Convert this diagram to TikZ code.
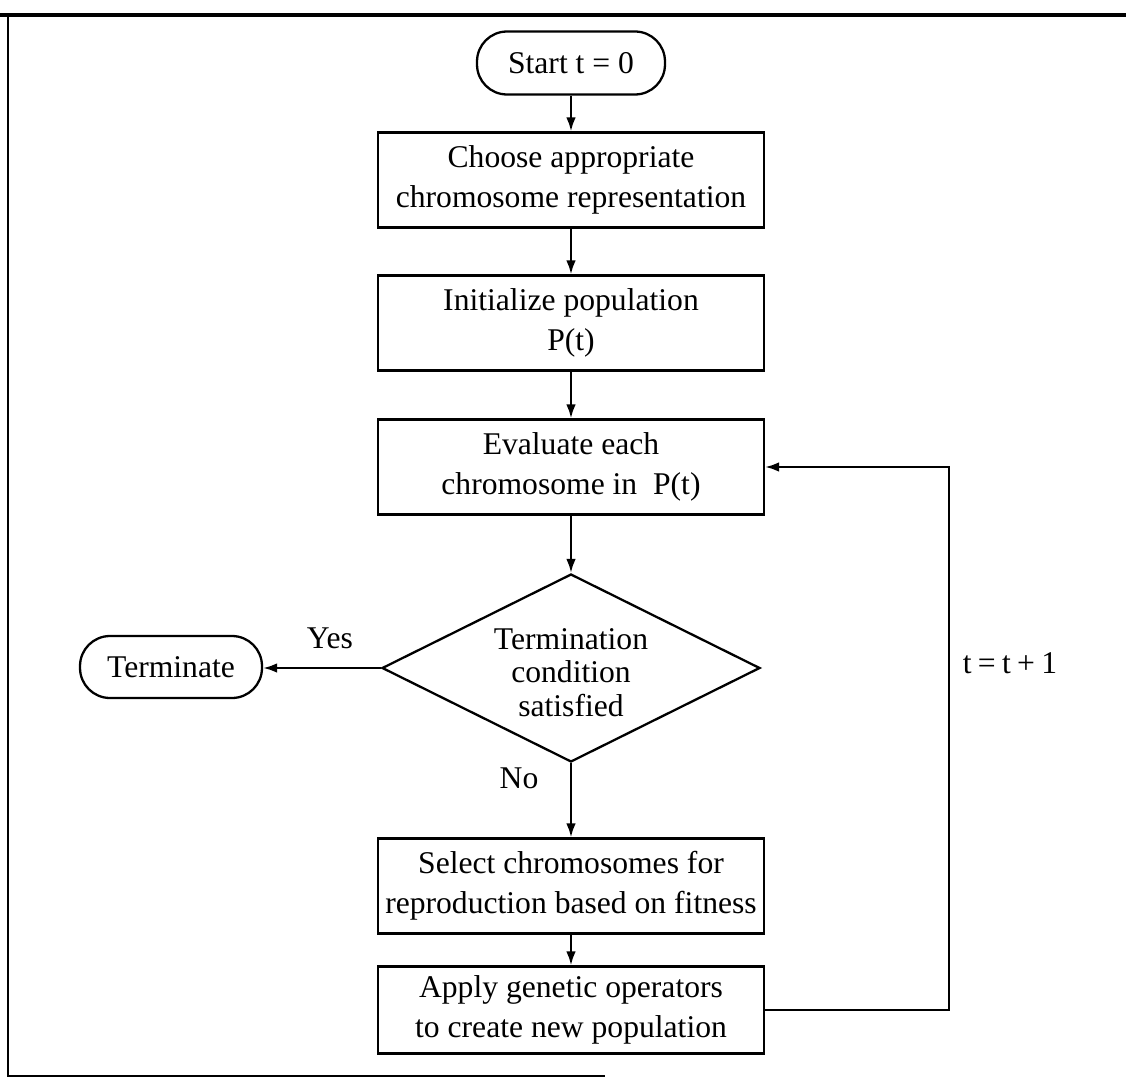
\documentclass[tikz,border=0pt]{standalone}
\usepackage{fontspec}
\setmainfont{Liberation Serif}
\usetikzlibrary{arrows.meta,shapes.geometric}
\begin{document}
\begin{tikzpicture}[x=0.02cm,y=-0.02cm,
  every node/.style={font=\fontsize{18}{23}\selectfont, align=center},
  stepbox/.style={draw, line width=1.3pt, minimum width=7.72cm, minimum height=1.9cm, inner sep=2pt},
  terminal/.style={draw, line width=1.3pt, rounded corners=0.6cm, inner sep=2pt},
  decision/.style={draw, diamond, aspect=2.01, line width=1.3pt, inner sep=0pt,
    minimum width=7.56cm, minimum height=3.76cm, font=\fontsize{18}{19}\selectfont},
  flow/.style={line width=1.3pt, -{Latex[length=8pt,width=5.5pt]}},
  lbl/.style={inner sep=0pt}]
\useasboundingbox (0,0) rectangle (1126,1078);
% outer frame
\draw[line width=2.2pt] (0,15) -- (1126,15);
\draw[line width=1.5pt] (8,15) -- (8,1076) -- (605,1076);
% flow nodes
\node[terminal, minimum width=3.76cm, minimum height=1.26cm] (start) at (571,63) {Start t = 0};
\node[stepbox] (choose) at (571,180) {Choose appropriate\\chromosome representation};
\node[stepbox] (init) at (571,323) {Initialize population\\P(t)};
\node[stepbox] (eval) at (571,467) {Evaluate each\\chromosome in\ \ P(t)};
\node[decision] (cond) at (571,668) {\raisebox{-9pt}[0pt][0pt]{\begin{tabular}{@{}c@{}}Termination\\condition\\satisfied\end{tabular}}};
\node[terminal, minimum width=3.64cm, minimum height=1.24cm] (term) at (171,667) {Terminate};
\node[stepbox] (select) at (571,886) {Select chromosomes for\\reproduction based on fitness};
\node[stepbox, minimum height=1.74cm] (apply) at (571,1010) {Apply genetic operators\\to create new population};
% labels
\node[lbl] (yes) at (330,638) {Yes};
\node[lbl] (no) at (519,778) {No};
\node[lbl] (incr) at (1010,663) {t\hspace{0.2em}=\hspace{0.2em}t\hspace{0.2em}+\hspace{0.2em}1};
% connectors
\draw[flow] (start) -- (choose);
\draw[flow] (choose) -- (init);
\draw[flow] (init) -- (eval);
\draw[flow] (eval) -- (cond);
\draw[flow] (cond.west) -- (cond.west -| term.east);
\draw[flow] (cond.south) -- (select.north);
\draw[flow] (select) -- (apply);
\coordinate (loop) at (949,1010);
\draw[flow] (apply.east) -- (loop) |- (eval.east);
\end{tikzpicture}
\end{document}
